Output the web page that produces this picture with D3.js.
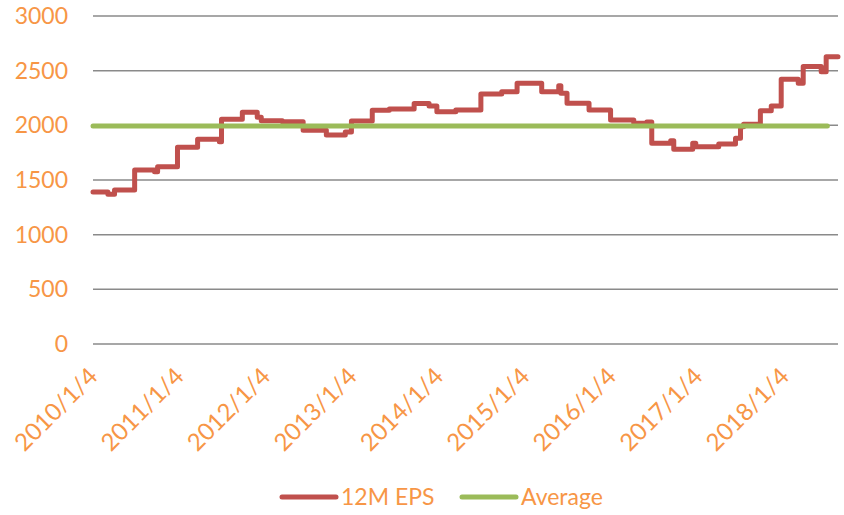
<!DOCTYPE html>
<html>
<head>
<meta charset="utf-8">
<script src="https://cdn.jsdelivr.net/npm/d3@7"></script>
<style>
  body { margin: 0; background: #fff; }
  text { font-family: Lato, "Open Sans", sans-serif; fill: #F79646; }
</style>
</head>
<body>
<script>
// step series: date where the value changes, new value
const epsDates = ["2010-01-04","2010-03-08","2010-04-05","2010-06-29","2010-09-21","2010-10-04","2010-12-27",
  "2011-03-22","2011-06-22","2011-07-01","2011-09-27","2011-11-29","2011-12-16","2012-03-14","2012-06-10",
  "2012-09-16","2012-12-05","2012-12-31","2013-03-29","2013-06-09","2013-09-22","2013-11-24","2013-12-27",
  "2014-03-17","2014-07-01","2014-09-27","2014-12-01","2015-03-15","2015-05-26","2015-06-04","2015-06-30",
  "2015-10-01","2015-12-31","2016-04-07","2016-06-01","2016-06-22","2016-09-10","2016-09-23","2016-12-12",
  "2016-12-25","2017-04-01","2017-06-11","2017-07-02","2017-07-15","2017-09-24","2017-11-09","2017-12-21",
  "2018-03-03","2018-03-24","2018-06-08","2018-06-29","2018-08-18"];
const epsValues = [1390,1369,1408,1591,1576,1622,1799,
  1872,1850,2055,2119,2073,2042,2033,1955,
  1912,1940,2040,2138,2150,2200,2177,2125,
  2140,2287,2308,2384,2308,2362,2293,2202,
  2140,2049,2018,2030,1836,1860,1781,1836,
  1805,1829,1881,1988,2009,2134,2177,2421,
  2384,2537,2491,2628,2628];

const avgDates = ["2010-01-04","2018-07-04"];
const avgValues = [1995,1995];

const yTicks = [0,500,1000,1500,2000,2500,3000];
const xTickLabels = ["2010/1/4","2011/1/4","2012/1/4","2013/1/4","2014/1/4","2015/1/4","2016/1/4","2017/1/4","2018/1/4"];

const seriesNames = ["12M EPS","Average"];
const seriesColors = ["#C0504D","#9BBB59"];

const canvWidth = 844, canvHeight = 515;
const margin = {top: 16, right: 6, bottom: 171, left: 93};
const width = canvWidth - margin.left - margin.right;
const height = canvHeight - margin.top - margin.bottom;

const parse = d3.timeParse("%Y-%m-%d");
const parseLabel = d3.timeParse("%Y/%m/%d");

const svg = d3.select("body").append("svg")
    .attr("width", canvWidth)
    .attr("height", canvHeight);

const g = svg.append("g")
    .attr("transform", "translate(" + margin.left + "," + margin.top + ")");

const xScale = d3.scaleTime()
    .domain([parse(epsDates[0]), parse(epsDates[epsDates.length - 1])])
    .range([0, width]);

const yScale = d3.scaleLinear()
    .domain([0, 3000])
    .range([height, 0]);

// gridlines
g.selectAll(".grid")
    .data(yTicks)
    .enter().append("line")
    .attr("x1", 0)
    .attr("x2", width)
    .attr("y1", d => yScale(d))
    .attr("y2", d => yScale(d))
    .attr("stroke", "#8a8a8a")
    .attr("stroke-width", 1.5);

// y axis labels
g.selectAll(".ylab")
    .data(yTicks)
    .enter().append("text")
    .attr("x", -25)
    .attr("y", d => yScale(d))
    .attr("dy", "0.35em")
    .attr("font-size", "23px")
    .style("text-anchor", "end")
    .text(d => d);

// x axis labels, rotated
g.selectAll(".xlab")
    .data(xTickLabels)
    .enter().append("text")
    .attr("font-size", "24px")
    .style("text-anchor", "end")
    .attr("transform", d => "translate(" + (xScale(parseLabel(d)) + 6) + "," + (height + 34) + ") rotate(-45)")
    .text(d => d);

const line = d3.line()
    .x(d => xScale(d[0]))
    .y(d => yScale(d[1]))
    .curve(d3.curveStepAfter);

const epsData = epsDates.map((d, i) => [parse(d), epsValues[i]]);
const avgData = avgDates.map((d, i) => [parse(d), avgValues[i]]);

g.append("path")
    .datum(epsData)
    .attr("fill", "none")
    .attr("stroke", seriesColors[0])
    .attr("stroke-width", 5)
    .attr("stroke-linejoin", "round")
    .attr("stroke-linecap", "round")
    .attr("d", line);

g.append("path")
    .datum(avgData)
    .attr("fill", "none")
    .attr("stroke", seriesColors[1])
    .attr("stroke-width", 5)
    .attr("stroke-linecap", "round")
    .attr("d", line.curve(d3.curveLinear));

// legend
const legendX = [282, 462];
const legend = svg.selectAll(".legend")
    .data(seriesNames)
    .enter().append("g")
    .attr("transform", (d, i) => "translate(" + legendX[i] + ",497)");

legend.append("line")
    .attr("x1", 0)
    .attr("x2", 54)
    .attr("stroke", (d, i) => seriesColors[i])
    .attr("stroke-width", 5)
    .attr("stroke-linecap", "round");

legend.append("text")
    .attr("x", 59)
    .attr("dy", "0.35em")
    .attr("font-size", "23px")
    .text(d => d);
</script>
</body>
</html>
